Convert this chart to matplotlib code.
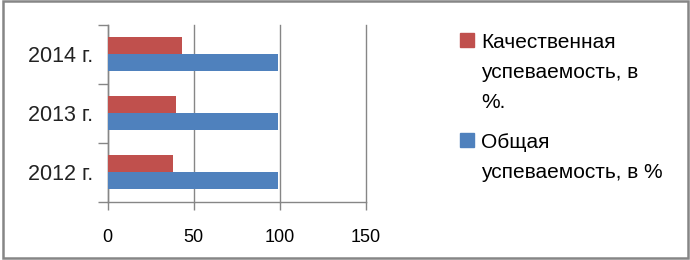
import matplotlib.pyplot as plt
from matplotlib.patches import Rectangle
import numpy as np

# data
years = ["2012 г.", "2013 г.", "2014 г."]
kachestvo = [38, 40, 43]      # Качественная успеваемость, в %.
obshaya = [99, 99, 99]        # Общая успеваемость, в %
ticks_x = [0, 50, 100, 150]

red = "#C0504D"
blue = "#4F81BD"
grey = "#868686"

plt.rcParams['font.family'] = ['Liberation Sans', 'DejaVu Sans']

W, H = 690, 260
fig = plt.figure(figsize=(W / 100, H / 100), dpi=100)

def fx(px):
    return px / W

def fy(py):
    return 1 - py / H

ax = fig.add_axes([fx(107.5), fy(201.5), fx(366) - fx(107.5), fy(25) - fy(201.5)])

y = np.arange(len(years))
h = 0.288
ax.barh(y + h / 2, kachestvo, height=h, color=red, zorder=3)
ax.barh(y - h / 2, obshaya, height=h, color=blue, zorder=3)

ax.set_xlim(0, 150)
ax.set_ylim(-0.5, len(years) - 0.5)
ax.set_xticks(ticks_x)
ax.set_xticklabels([str(t) for t in ticks_x], fontsize=13)
ax.tick_params(axis='x', length=6, width=1, color=grey, pad=14, labelcolor="black")

ax.set_yticks(np.arange(len(years) + 1) - 0.5)
ax.set_yticklabels([])
ax.tick_params(axis='y', which='major', length=7, width=1, color=grey)
ax.set_yticks(y, minor=True)
ax.set_yticklabels(years, minor=True, fontsize=15.5, color="#222222")
ax.tick_params(axis='y', which='minor', length=0, pad=10)

ax.grid(axis='x', color=grey, linewidth=1, zorder=0)
for gl in ax.get_xgridlines():
    gl.set_clip_on(False)
for s in ['top', 'right']:
    ax.spines[s].set_visible(False)
for s in ['left', 'bottom']:
    ax.spines[s].set_color(grey)
    ax.spines[s].set_linewidth(1)

# legend drawn by hand
legend = [
    (red, ["Качественная", "успеваемость, в", "%."], 33),
    (blue, ["Общая", "успеваемость, в %"], 133),
]
for color, lines, top in legend:
    fig.patches.append(Rectangle((fx(460), fy(top + 14)), fx(14), 14 / H,
                                 transform=fig.transFigure, color=color))
    for i, line in enumerate(lines):
        fig.text(fx(481), fy(top + 14.5 + i * 30), line, fontsize=15,
                 va='baseline', ha='left', color="black")

# chart frame
fig.patches.append(Rectangle((fx(2.5), fy(257.5)), fx(687.5) - fx(2.5), 256.5 / H,
                             transform=fig.transFigure, fill=False,
                             edgecolor=grey, linewidth=1.8))

fig.savefig("out.png", dpi=100)
